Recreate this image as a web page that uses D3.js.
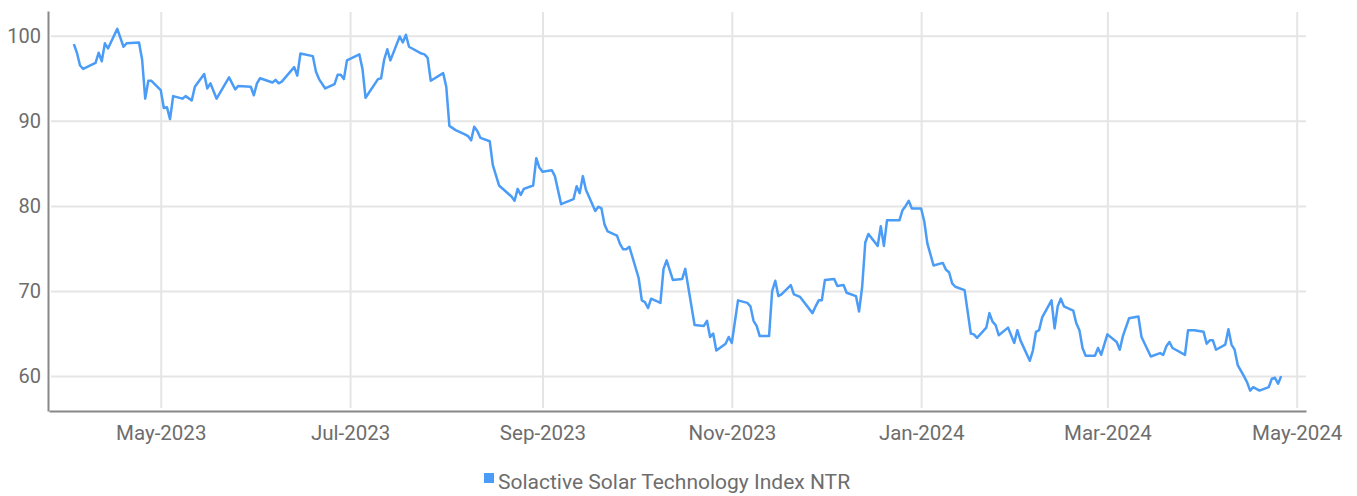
<!DOCTYPE html>
<html>
<head>
<meta charset="utf-8">
<script src="https://cdn.jsdelivr.net/npm/d3@7"></script>
<style>
  body { margin: 0; background: #fff; }
  .chart text { font-family: Roboto, "Open Sans", sans-serif; fill: #6d6d6d; }
</style>
</head>
<body>
<div class="chart"></div>
<script>
const seriesName = "Solactive Solar Technology Index NTR";

const dates = [
  "2023-04-03","2023-04-04","2023-04-05","2023-04-06","2023-04-10","2023-04-11","2023-04-12","2023-04-13","2023-04-14","2023-04-17",
  "2023-04-19","2023-04-20","2023-04-24","2023-04-25","2023-04-26","2023-04-27","2023-04-28","2023-05-01","2023-05-02","2023-05-03",
  "2023-05-04","2023-05-05","2023-05-08","2023-05-09","2023-05-11","2023-05-12","2023-05-15","2023-05-16","2023-05-17","2023-05-19",
  "2023-05-23","2023-05-25","2023-05-26","2023-05-30","2023-05-31","2023-06-01","2023-06-02","2023-06-06","2023-06-07","2023-06-08",
  "2023-06-09","2023-06-13","2023-06-14","2023-06-15","2023-06-19","2023-06-20","2023-06-21","2023-06-23","2023-06-26","2023-06-27",
  "2023-06-28","2023-06-29","2023-06-30","2023-07-04","2023-07-05","2023-07-06","2023-07-10","2023-07-11","2023-07-12","2023-07-13",
  "2023-07-14","2023-07-17","2023-07-18","2023-07-19","2023-07-20","2023-07-24","2023-07-25","2023-07-26","2023-07-27","2023-07-31",
  "2023-08-01","2023-08-02","2023-08-04","2023-08-07","2023-08-08","2023-08-09","2023-08-10","2023-08-11","2023-08-12","2023-08-15",
  "2023-08-16","2023-08-18","2023-08-22","2023-08-23","2023-08-24","2023-08-25","2023-08-26","2023-08-29","2023-08-30","2023-08-31",
  "2023-09-01","2023-09-04","2023-09-05","2023-09-07","2023-09-11","2023-09-12","2023-09-13","2023-09-14","2023-09-15","2023-09-18",
  "2023-09-19","2023-09-20","2023-09-21","2023-09-22","2023-09-25","2023-09-26","2023-09-27","2023-09-28","2023-09-29","2023-10-02",
  "2023-10-03","2023-10-04","2023-10-05","2023-10-06","2023-10-09","2023-10-10","2023-10-11","2023-10-13","2023-10-16","2023-10-17",
  "2023-10-20","2023-10-23","2023-10-24","2023-10-25","2023-10-26","2023-10-27","2023-10-30","2023-10-31","2023-11-01","2023-11-03",
  "2023-11-06","2023-11-07","2023-11-08","2023-11-09","2023-11-10","2023-11-13","2023-11-14","2023-11-15","2023-11-16","2023-11-17",
  "2023-11-20","2023-11-21","2023-11-23","2023-11-27","2023-11-28","2023-11-29","2023-11-30","2023-12-01","2023-12-04","2023-12-05",
  "2023-12-07","2023-12-08","2023-12-11","2023-12-12","2023-12-13","2023-12-14","2023-12-15","2023-12-18","2023-12-19","2023-12-20",
  "2023-12-21","2023-12-25","2023-12-26","2023-12-27","2023-12-28","2023-12-29","2024-01-01","2024-01-02","2024-01-03","2024-01-05",
  "2024-01-08","2024-01-09","2024-01-10","2024-01-11","2024-01-12","2024-01-15","2024-01-17","2024-01-18","2024-01-19","2024-01-22",
  "2024-01-23","2024-01-24","2024-01-25","2024-01-26","2024-01-29","2024-01-31","2024-02-01","2024-02-02","2024-02-05","2024-02-06",
  "2024-02-07","2024-02-08","2024-02-09","2024-02-12","2024-02-13","2024-02-14","2024-02-15","2024-02-16","2024-02-19","2024-02-20",
  "2024-02-21","2024-02-22","2024-02-23","2024-02-26","2024-02-27","2024-02-28","2024-03-01","2024-03-04","2024-03-05","2024-03-06",
  "2024-03-08","2024-03-11","2024-03-12","2024-03-15","2024-03-18","2024-03-19","2024-03-20","2024-03-21","2024-03-22","2024-03-26",
  "2024-03-27","2024-03-29","2024-04-01","2024-04-02","2024-04-03","2024-04-04","2024-04-05","2024-04-08","2024-04-09","2024-04-10",
  "2024-04-11","2024-04-12","2024-04-14","2024-04-15","2024-04-16","2024-04-17","2024-04-19","2024-04-22","2024-04-23","2024-04-24",
  "2024-04-25","2024-04-26"
];

const values = [
  99.0,98.0,96.5,96.1,96.8,98.0,97.0,99.1,98.5,100.8,
  98.7,99.1,99.2,97.2,92.6,94.7,94.7,93.6,91.5,91.6,
  90.2,92.9,92.6,92.9,92.4,94.0,95.5,93.8,94.4,92.6,
  95.1,93.7,94.1,94.0,93.0,94.4,95.0,94.5,94.8,94.4,
  94.6,96.3,95.3,97.9,97.6,95.8,94.9,93.8,94.3,95.4,
  95.4,94.9,97.1,97.8,96.1,92.7,94.9,95.0,97.2,98.4,
  97.1,99.9,99.2,100.1,98.7,97.9,97.8,97.4,94.7,95.6,
  94.0,89.4,88.9,88.4,88.2,87.7,89.3,88.8,88.0,87.6,
  84.8,82.4,81.1,80.6,82.0,81.3,82.0,82.4,85.6,84.5,
  84.0,84.2,83.5,80.2,80.8,82.3,81.5,83.5,81.9,79.4,
  79.9,79.7,77.8,77.0,76.5,75.5,74.9,74.9,75.2,71.5,
  68.9,68.7,68.0,69.1,68.6,72.6,73.6,71.3,71.4,72.6,
  66.0,65.9,66.5,64.6,65.0,63.0,63.8,64.6,63.9,68.9,
  68.6,68.2,66.5,65.9,64.7,64.7,70.0,71.2,69.4,69.6,
  70.7,69.6,69.3,67.4,68.2,68.9,68.9,71.3,71.4,70.6,
  70.7,69.8,69.4,67.6,70.5,75.7,76.7,75.3,77.6,75.3,
  78.3,78.3,79.5,80.0,80.6,79.7,79.7,78.2,75.6,73.0,
  73.3,72.5,72.2,70.9,70.5,70.1,65.0,64.9,64.5,65.7,
  67.4,66.4,66.0,64.8,65.7,63.9,65.4,64.2,61.8,63.0,
  65.2,65.4,66.9,68.9,65.6,68.2,69.1,68.2,67.7,66.2,
  65.4,63.3,62.4,62.4,63.3,62.5,64.9,64.0,63.1,64.7,
  66.8,67.0,64.6,62.3,62.7,62.5,63.5,64.0,63.3,62.5,
  65.4,65.4,65.2,63.8,64.2,64.2,63.1,63.7,65.5,63.7,
  63.1,61.3,60.0,59.3,58.3,58.7,58.3,58.7,59.7,59.8,
  59.1,60.0
];

const yTicks = [60, 70, 80, 90, 100];
const xTicks = ["2023-05-01","2023-07-01","2023-09-01","2023-11-01","2024-01-01","2024-03-01","2024-05-01"];
const xDomain = ["2023-03-26", "2024-05-04"];
const yDomain = [55.9, 102.9];

const width = 1357;
const height = 496;
const plot = {left: 49, right: 1306, top: 11, bottom: 411};

const parse = d3.utcParse("%Y-%m-%d");
const fmt = d3.utcFormat("%b-%Y");
const data = dates.map((d, i) => ({date: parse(d), value: values[i]}));

const svg = d3.select(".chart").append("svg")
    .attr("width", width)
    .attr("height", height);

const x = d3.scaleUtc()
    .domain(xDomain.map(parse))
    .range([plot.left, plot.right]);

const y = d3.scaleLinear()
    .domain(yDomain)
    .range([plot.bottom, plot.top]);

// grid
svg.append("g")
    .attr("transform", `translate(0,${plot.bottom})`)
    .call(d3.axisBottom(x).tickValues(xTicks.map(parse)).tickSize(-(plot.bottom - plot.top - 4)).tickFormat(""))
    .call(g => g.select(".domain").remove())
    .call(g => g.selectAll("line").attr("stroke", "#e5e5e5").attr("stroke-width", 2).attr("transform", "translate(0,-3)"));

svg.append("g")
    .attr("transform", `translate(${plot.right},0)`)
    .call(d3.axisLeft(y).tickValues(yTicks).tickSize(plot.right - plot.left - 2).tickFormat(""))
    .call(g => g.select(".domain").remove())
    .call(g => g.selectAll("line").attr("stroke", "#e5e5e5").attr("stroke-width", 2));

// axes
svg.append("g")
    .attr("transform", `translate(${plot.left - 1},0)`)
    .call(d3.axisLeft(y).tickValues(yTicks).tickSize(0).tickPadding(7))
    .call(g => g.select(".domain").attr("stroke", "#888").attr("stroke-width", 2))
    .call(g => g.selectAll("text").style("font-size", "20px"));

svg.append("g")
    .attr("transform", `translate(0,${plot.bottom})`)
    .call(d3.axisBottom(x).tickValues(xTicks.map(parse)).tickSize(0).tickPadding(14).tickFormat(fmt))
    .call(g => g.select(".domain").attr("stroke", "#888").attr("stroke-width", 2))
    .call(g => g.selectAll("text").style("font-size", "20.5px"));

// line
const line = d3.line()
    .x(d => x(d.date))
    .y(d => y(d.value));

svg.append("path")
    .datum(data)
    .attr("fill", "none")
    .attr("stroke", "#4a9cf6")
    .attr("stroke-width", 2.5)
    .attr("stroke-linejoin", "round")
    .attr("d", line);

// legend
const legend = svg.append("g")
    .attr("transform", "translate(484,473)");

legend.append("rect")
    .attr("width", 10)
    .attr("height", 10)
    .attr("fill", "#4a9cf6");

legend.append("text")
    .attr("x", 14)
    .attr("y", 15.5)
    .style("font-size", "21px")
    .text(seriesName);
</script>
</body>
</html>
